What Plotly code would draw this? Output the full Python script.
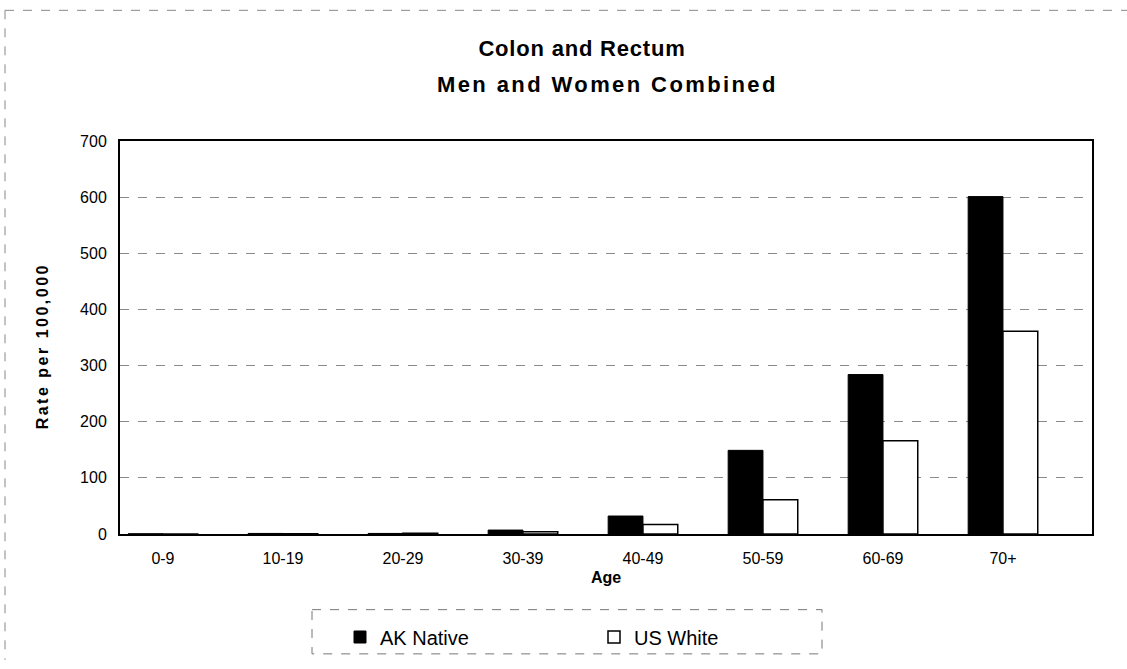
import plotly.graph_objects as go

categories = ["0-9", "10-19", "20-29", "30-39", "40-49", "50-59", "60-69", "70+"]
ak_native = [0.3, 1.0, 1.0, 7.0, 32.0, 149.0, 284.0, 601.0]
us_white = [0.1, 0.5, 1.5, 4.0, 17.0, 61.0, 166.0, 361.0]
series_names = ["AK Native", "US White"]
y_ticks = [0, 100, 200, 300, 400, 500, 600, 700]
title_lines = ["Colon and Rectum", "Men and Women Combined"]
x_title = "Age"
y_title = "Rate per 100,000"

FONT = "Liberation Sans, Arial, sans-serif"


def sp(text, ls):
    return f'<span style="letter-spacing:{ls}px">{text}</span>'


fig = go.Figure()
fig.add_trace(go.Bar(
    x=categories, y=ak_native, name=series_names[0],
    marker=dict(color="black", line=dict(color="black", width=1)),
))
fig.add_trace(go.Bar(
    x=categories, y=us_white, name=series_names[1],
    marker=dict(color="white", line=dict(color="black", width=1.5)),
))

L, R, T, B = 120, 1092, 141, 541
W, H = 1127, 669


def px2x(px):
    return (px - L) / (R - L)


def px2y(py):
    return (B - py) / (B - T)


fig.update_layout(
    width=W, height=H,
    margin=dict(l=L, r=W - R, t=T, b=H - B),
    paper_bgcolor="white", plot_bgcolor="white",
    font=dict(family=FONT, color="black", size=16),
    barmode="group", bargap=0.42, bargroupgap=0.0,
    title=dict(
        text=sp(title_lines[0], 0.8),
        font=dict(family=FONT, size=22, color="black", weight="bold"),
        x=582 / W, xanchor="center", xref="container",
        y=1 - 48 / H, yanchor="middle", yref="container",
    ),
    showlegend=True,
    legend=dict(
        orientation="h", x=px2x(340), y=px2y(626), xanchor="left", yanchor="top",
        font=dict(family=FONT, size=20, color="black"),
        bgcolor="rgba(0,0,0,0)", borderwidth=0,
        entrywidth=209, entrywidthmode="pixels",
        traceorder="normal",
    ),
)

fig.add_annotation(
    text=sp(title_lines[1], 2.4), xref="paper", yref="paper",
    x=px2x(607), y=px2y(84), xanchor="center", yanchor="middle",
    showarrow=False, font=dict(family=FONT, size=22, color="black", weight="bold"),
)
fig.add_annotation(
    text=sp(y_title, 2.5), xref="paper", yref="paper", textangle=-90,
    x=px2x(42), y=px2y(350), xanchor="center", yanchor="middle",
    showarrow=False, font=dict(family=FONT, size=16, color="black", weight="bold"),
)

fig.update_xaxes(
    type="category", categoryorder="array", categoryarray=categories,
    range=[-0.358, 7.742],
    tickfont=dict(family=FONT, size=16, color="black"),
    showline=True, linecolor="black", linewidth=2, mirror=True,
    ticks="", showgrid=False, ticklabelstandoff=9,
    title=dict(text=x_title, font=dict(family=FONT, size=16, color="black", weight="bold"), standoff=6),
)
fig.update_yaxes(
    range=[0, 700], tickvals=y_ticks,
    tickfont=dict(family=FONT, size=16, color="black"),
    showline=True, linecolor="black", linewidth=2, mirror=True,
    ticks="", ticklabelstandoff=8,
    showgrid=True, gridcolor="#8a8a8a", gridwidth=1, griddash="dash",
    zeroline=False,
)

# legend frame (dashed)
fig.add_shape(type="rect", xref="paper", yref="paper",
              x0=px2x(312), x1=px2x(822), y0=px2y(618), y1=px2y(663),
              line=dict(color="#777777", width=1, dash="dash"), fillcolor="rgba(0,0,0,0)", layer="above")
# outer chart frame (dashed, partially visible)
fig.add_shape(type="line", xref="paper", yref="paper",
              x0=px2x(5), x1=px2x(1127), y0=px2y(8), y1=px2y(8),
              line=dict(color="#888888", width=1, dash="dash"))
fig.add_shape(type="line", xref="paper", yref="paper",
              x0=px2x(5), x1=px2x(5), y0=px2y(8), y1=px2y(669),
              line=dict(color="#888888", width=1, dash="dash"))

fig.write_html("out.html", config={"displayModeBar": False},
               post_script="document.body.style.margin='0';document.body.style.overflow='hidden';")
